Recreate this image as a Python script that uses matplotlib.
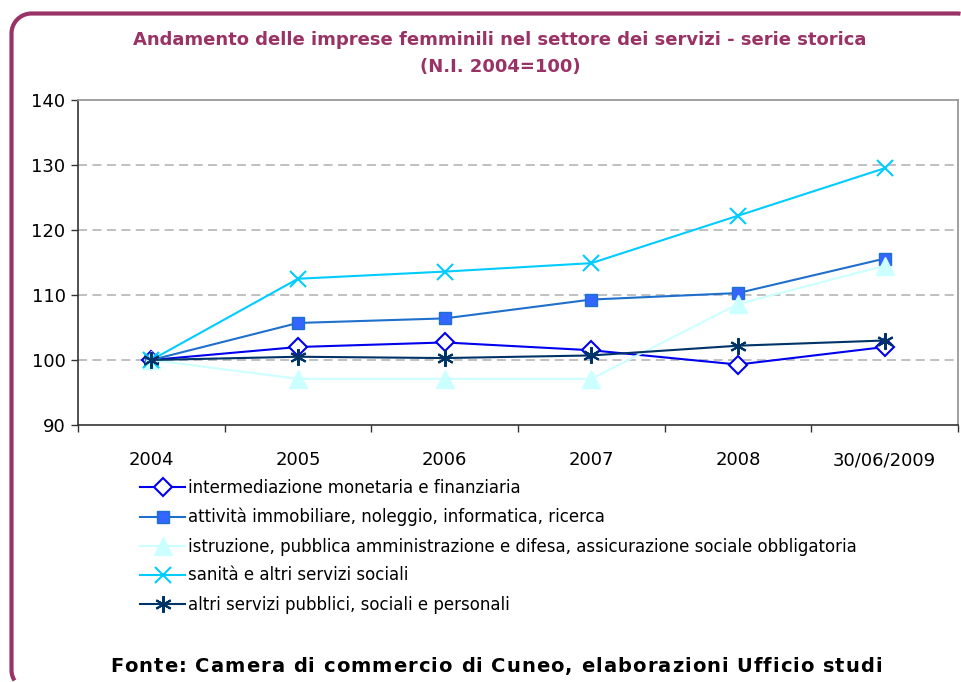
import matplotlib
matplotlib.use("Agg")
import numpy as np
import matplotlib.pyplot as plt
from matplotlib.lines import Line2D
from matplotlib.transforms import IdentityTransform
from matplotlib.font_manager import FontProperties

categories = ["2004", "2005", "2006", "2007", "2008", "30/06/2009"]
intermediazione = [100, 102.0, 102.7, 101.5, 99.3, 102.0]
attivita = [100, 105.7, 106.4, 109.3, 110.3, 115.6]
istruzione = [100, 97.1, 97.1, 97.1, 108.6, 114.5]
sanita = [100, 112.5, 113.6, 114.9, 122.2, 129.5]
altri = [100, 100.5, 100.3, 100.7, 102.2, 103.0]

labels = [
    "intermediazione monetaria e finanziaria",
    "attività immobiliare, noleggio, informatica, ricerca",
    "istruzione, pubblica amministrazione e difesa, assicurazione sociale obbligatoria",
    "sanità e altri servizi sociali",
    "altri servizi pubblici, sociali e personali",
]
title1 = "Andamento delle imprese femminili nel settore dei servizi - serie storica"
title2 = "(N.I. 2004=100)"
source = "Fonte: Camera di commercio di Cuneo, elaborazioni Ufficio studi"

W, H = 962, 682
fig = plt.figure(figsize=(W / 100, H / 100), dpi=100)
fig.patch.set_facecolor("white")

# ---- rounded frame, visible part only (pixel coords, y measured from top) ----
r = 20.0
xl, yt, xr, yb = 11.5, 13.5, 977.0, 690.0
pts = []
t0 = np.arccos((W - 1.5 - (xr - r)) / r)
a = np.linspace(t0, np.pi / 2, 12)
pts += [(xr - r + r * np.cos(t), yt + r - r * np.sin(t)) for t in a]
a = np.linspace(np.pi / 2, np.pi, 20)
pts += [(xl + r + r * np.cos(t), yt + r - r * np.sin(t)) for t in a]
t1 = np.pi + np.arcsin((H - 1.5 - (yb - r)) / r)
a = np.linspace(np.pi, t1, 12)
pts += [(xl + r + r * np.cos(t), yb - r - r * np.sin(t)) for t in a]
px = [p[0] for p in pts]
py = [H - p[1] for p in pts]
fig.add_artist(Line2D(px, py, transform=IdentityTransform(), color="#993366",
                      lw=3.0, solid_capstyle="butt", zorder=0))

ax = fig.add_axes([78 / W, 1 - 425 / H, (958 - 78) / W, (425 - 100) / H])
x = list(range(len(categories)))

styles = [
    dict(color="#0000EE", marker="D", ms=9.5, mfc="white", mec="#0000EE", mew=1.5, lw=1.5),
    dict(color="#1F6FCC", marker="s", ms=8, mfc="#3366FF", mec="#1F6FCC", mew=1.0, lw=1.5),
    dict(color="#CCFFFF", marker="^", ms=13, mfc="#CCFFFF", mec="#CCFFFF", mew=1.0, lw=1.5),
    dict(color="#00CCFF", marker="x", ms=11, mfc="#00CCFF", mec="#00CCFF", mew=1.5, lw=1.5),
    dict(color="#003366", marker=(6, 2, 0), ms=12, mfc="#003366", mec="#003366", mew=1.5, lw=1.5),
]
series = [intermediazione, attivita, istruzione, sanita, altri]
handles = []
for vals, lab, st in zip(series, labels, styles):
    h, = ax.plot(x, vals, label=lab, zorder=3, clip_on=False, **st)
    handles.append(h)

ax.set_xlim(-0.5, len(categories) - 0.5)
ax.set_ylim(90, 140)
ax.set_yticks([90, 100, 110, 120, 130, 140])
ax.set_xticks([i - 0.5 for i in range(len(categories) + 1)])
ax.set_xticklabels([])
ax.set_xticks(x, minor=True)
ax.set_xticklabels(categories, minor=True)
ax.tick_params(axis="x", which="minor", length=0, pad=19, labelsize=13)
ax.tick_params(axis="x", which="major", length=5, width=1, color="#333333", direction="out")
ax.tick_params(axis="y", length=5, width=1, color="#333333", direction="out", labelsize=13, pad=4)

for yv in [100, 110, 120, 130]:
    ax.axhline(yv, color="#BBBBBB", lw=1.3, ls=(0, (5, 3)), zorder=1)

ax.spines["left"].set_color("#333333")
ax.spines["bottom"].set_color("#333333")
ax.spines["left"].set_linewidth(1.2)
ax.spines["bottom"].set_linewidth(1.2)
ax.spines["top"].set_color("#999999")
ax.spines["right"].set_color("#999999")
ax.spines["top"].set_linewidth(1.3)
ax.spines["right"].set_linewidth(1.3)

fig.text(500 / W, 1 - 40 / H, title1, ha="center", va="center", fontsize=13,
         fontweight="bold", color="#993366")
fig.text(500 / W, 1 - 67 / H, title2, ha="center", va="center", fontsize=13,
         fontweight="bold", color="#993366")

leg = fig.legend(handles=handles, labels=labels, loc="upper left",
                 bbox_to_anchor=(140 / W, 1 - 479 / H), frameon=False,
                 fontsize=12, handlelength=2.7, handletextpad=0.2,
                 labelspacing=0.66, borderaxespad=0, borderpad=0)

# ---- letter-spaced footer ----
fp = FontProperties(family="DejaVu Sans", weight="bold", size=14)
renderer = fig.canvas.get_renderer()


def tw(s):
    return renderer.get_text_width_height_descent(s, fp, ismath=False)[0]


base = tw("||")
adv = [tw("|" + c + "|") - base for c in source]
target_w = 772.0
spacing = (target_w - sum(adv)) / (len(source) - 1)
xpos = 110.0
for c, a_ in zip(source, adv):
    if c != " ":
        fig.text(xpos / W, 1 - 672 / H, c, ha="left", va="baseline",
                 fontproperties=fp, color="black")
    xpos += a_ + spacing

fig.savefig("out.png", dpi=100)
